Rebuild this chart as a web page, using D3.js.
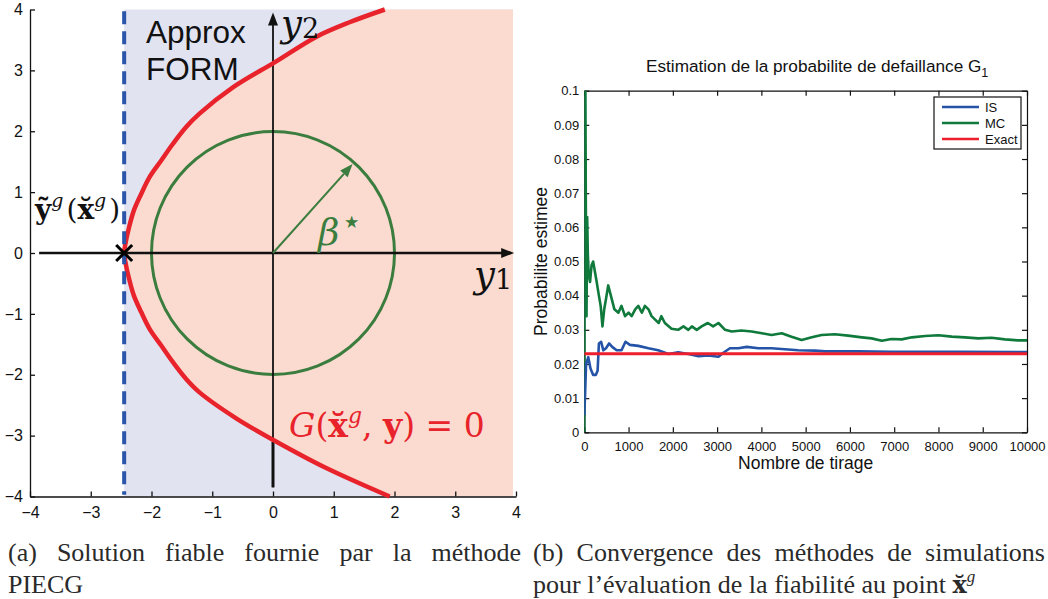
<!DOCTYPE html>
<html><head><meta charset="utf-8">
<script src="https://cdn.jsdelivr.net/npm/d3@7"></script>
<style>
body{margin:0;background:#fff;}
svg{display:block;}
</style></head>
<body>
<svg id="chart" width="1048" height="599"></svg>
<script>
// ---------- Panel (a) data ----------
const axisTicksA = [-4,-3,-2,-1,0,1,2,3,4];
const formX = -2.45;                 // Approx FORM abscissa
const limitY = [4.0, 3.79, 3.55, 3.14, 2.72, 2.29, 2.07, 1.79, 1.52, 1.25, 0.97, 0.70, 0.42, 0.15, 0, -0.15, -0.42, -0.70, -0.97, -1.25, -1.52, -1.79, -2.07, -2.29, -2.72, -3.08, -3.52, -4.0];
const limitX = [1.84, 1.26, 0.71, 0.04, -0.66, -1.21, -1.43, -1.65, -1.84, -2.03, -2.17, -2.29, -2.37, -2.43, -2.45, -2.43, -2.37, -2.29, -2.17, -2.03, -1.84, -1.65, -1.43, -1.21, -0.60, 0.02, 0.85, 1.92];
const betaStar = 2;
const betaArrowEnd = [1.31, 1.46];

// ---------- Panel (b) data ----------
const xTicksB = [0,1000,2000,3000,4000,5000,6000,7000,8000,9000,10000];
const yTicksB = [0,0.01,0.02,0.03,0.04,0.05,0.06,0.07,0.08,0.09,0.1];
const nMC = [0, 10, 25, 35, 50, 65, 80, 100, 130, 165, 200, 240, 280, 330, 370, 410, 450, 490, 540, 600, 680, 770, 840, 920, 1000, 1070, 1150, 1220, 1300, 1370, 1450, 1520, 1600, 1680, 1740, 1820, 1970, 2120, 2240, 2350, 2430, 2540, 2650, 2790, 2910, 3030, 3180, 3330, 3550, 3780, 4010, 4230, 4460, 4680, 4910, 5140, 5360, 5660, 5960, 6270, 6490, 6720, 6940, 7170, 7400, 7700, 8000, 8300, 8600, 8900, 9200, 9500, 9800, 10000];
const pMC = [0, 0.1, 0.1, 0.066, 0.034, 0.063, 0.052, 0.046, 0.044, 0.049, 0.050, 0.047, 0.044, 0.040, 0.037, 0.031, 0.036, 0.039, 0.043, 0.040, 0.036, 0.035, 0.037, 0.034, 0.035, 0.034, 0.036, 0.037, 0.035, 0.037, 0.036, 0.034, 0.033, 0.032, 0.034, 0.032, 0.0303, 0.030, 0.031, 0.030, 0.031, 0.030, 0.031, 0.032, 0.031, 0.032, 0.030, 0.0295, 0.0298, 0.0295, 0.029, 0.0285, 0.029, 0.028, 0.027, 0.0278, 0.0285, 0.0287, 0.0283, 0.0278, 0.0275, 0.0268, 0.0273, 0.0272, 0.0278, 0.0282, 0.0284, 0.028, 0.0278, 0.0275, 0.0277, 0.0272, 0.0269, 0.0269];
const nIS = [0, 20, 40, 90, 140, 200, 260, 300, 330, 380, 430, 490, 560, 630, 730, 840, 930, 1030, 1220, 1450, 1670, 1900, 2120, 2350, 2580, 2800, 3030, 3140, 3290, 3480, 3670, 3930, 4230, 4530, 4830, 5210, 5440, 6190, 6940, 7700, 8450, 10000];
const pIS = [0.005, 0.012, 0.020, 0.022, 0.0187, 0.0168, 0.0168, 0.018, 0.026, 0.0265, 0.024, 0.0246, 0.026, 0.025, 0.024, 0.024, 0.0265, 0.0256, 0.0253, 0.0246, 0.024, 0.0229, 0.0234, 0.0229, 0.0223, 0.0225, 0.0221, 0.0233, 0.0246, 0.0246, 0.025, 0.0246, 0.0246, 0.0243, 0.024, 0.0239, 0.0237, 0.0237, 0.0236, 0.0236, 0.0236, 0.0235];
const pExact = 0.023;
const seriesNames = ["IS","MC","Exact"];

// ---------- captions ----------
const captionA1 = ["(a)","Solution","fiable","fournie","par","la","méthode"];
const captionA2 = "PIECG";
const captionB1 = ["(b)","Convergence","des","méthodes","de","simulations"];
const captionB2 = "pour l’évaluation de la fiabilité au point ";

const svg = d3.select("#chart");
const SANS = "'Liberation Sans', Arial, Helvetica, sans-serif";
const SERIF = "'Liberation Serif', 'Times New Roman', serif";
const MATH = "'DejaVu Serif', 'Liberation Serif', serif";

// ================= Panel (a) =================
const xA = d3.scaleLinear().domain([-4,4]).range([30,516]);
const yA = d3.scaleLinear().domain([-4,4]).range([496.5,9.5]);
const gA = svg.append("g");

// lavender region
gA.append("rect").attr("x", xA(formX)).attr("y", yA(4))
  .attr("width", xA(3.95)-xA(formX)).attr("height", yA(-4)-yA(4))
  .attr("fill", "#e1e3f1");
// salmon failure region (right of limit state)
const limitPts = limitY.map((y,i)=>[limitX[i], y]);
const regionLine = d3.line().x(d=>xA(d[0])).y(d=>yA(d[1])).curve(d3.curveCatmullRom.alpha(0.5));
gA.append("path")
  .attr("d", regionLine(limitPts) + `L${xA(3.95)},${yA(-4)}L${xA(3.95)},${yA(4)}Z`)
  .attr("fill", "#fbdbcf");

// axes (left & bottom)
const axL = d3.axisLeft(yA).tickValues(axisTicksA).tickSizeInner(-5).tickSizeOuter(0).tickPadding(7);
const axB = d3.axisBottom(xA).tickValues(axisTicksA).tickSizeInner(-5).tickSizeOuter(0).tickPadding(10);
const gL = gA.append("g").attr("transform", `translate(${xA(-4)},0)`).call(axL);
const gBt = gA.append("g").attr("transform", `translate(0,${yA(-4)})`).call(axB);
[gL,gBt].forEach(g=>{
  g.selectAll("path,line").attr("stroke","#111").attr("stroke-width",1.3);
  g.selectAll("text").attr("font-family",SANS).attr("font-size",16).attr("fill","#111");
});

// green beta circle
gA.append("circle").attr("cx", xA(0)).attr("cy", yA(0))
  .attr("r", xA(betaStar)-xA(0)).attr("fill","none")
  .attr("stroke","#3b7d3e").attr("stroke-width",3);

// black coordinate axes
gA.append("line").attr("x1", xA(-3.85)).attr("x2", xA(3.85)).attr("y1", yA(0)).attr("y2", yA(0))
  .attr("stroke","#111").attr("stroke-width",2.5);
gA.append("path").attr("d", `M${xA(3.97)},${yA(0)}L${xA(3.97)-13},${yA(0)-5}L${xA(3.97)-13},${yA(0)+5}Z`).attr("fill","#111");
gA.append("line").attr("x1", xA(0)).attr("x2", xA(0)).attr("y1", yA(-3.85)).attr("y2", yA(3.85))
  .attr("stroke","#111").attr("stroke-width",1.8);
gA.append("line").attr("x1", xA(0)).attr("x2", xA(0)).attr("y1", yA(-3.85)).attr("y2", yA(-3.1))
  .attr("stroke","#111").attr("stroke-width",3);
gA.append("path").attr("d", `M${xA(0)},${yA(3.95)}L${xA(0)-5},${yA(3.95)+13}L${xA(0)+5},${yA(3.95)+13}Z`).attr("fill","#111");

// red limit state curve
gA.append("path").attr("d", regionLine(limitPts)).attr("fill","none")
  .attr("stroke","#e8232b").attr("stroke-width",4.5);

// blue dashed FORM line
gA.append("line").attr("x1", xA(formX)).attr("x2", xA(formX)).attr("y1", yA(3.97)).attr("y2", yA(-3.97))
  .attr("stroke","#2b55a8").attr("stroke-width",4).attr("stroke-dasharray","13,7");

// beta arrow
const ax0 = xA(0), ay0 = yA(0), ax1 = xA(betaArrowEnd[0]), ay1 = yA(betaArrowEnd[1]);
const ang = Math.atan2(ay1-ay0, ax1-ax0);
const hl = 13, hw = 5;
const bx = ax1 - hl*Math.cos(ang), by = ay1 - hl*Math.sin(ang);
gA.append("line").attr("x1",ax0).attr("y1",ay0).attr("x2",bx).attr("y2",by)
  .attr("stroke","#3b7d3e").attr("stroke-width",2);
gA.append("path").attr("d", `M${ax1},${ay1}L${bx - hw*Math.sin(ang)},${by + hw*Math.cos(ang)}L${bx + hw*Math.sin(ang)},${by - hw*Math.cos(ang)}Z`)
  .attr("fill","#3b7d3e");

// X marker
const mx = xA(formX), my = yA(0), ms = 8;
gA.append("path").attr("d", `M${mx-ms},${my-ms}L${mx+ms},${my+ms}M${mx-ms},${my+ms}L${mx+ms},${my-ms}`)
  .attr("stroke","#000").attr("stroke-width",3);

// texts panel (a)
gA.append("text").attr("x",146).attr("y",43).attr("font-family",SANS).attr("font-size",31.5).attr("fill","#111").text("Approx");
gA.append("text").attr("x",146).attr("y",80).attr("font-family",SANS).attr("font-size",31.5).attr("fill","#111").text("FORM");

const ty2 = gA.append("text").attr("x",281).attr("y",36).attr("font-family",MATH).attr("font-size",37).attr("fill","#111");
ty2.append("tspan").attr("font-style","italic").text("y");
ty2.append("tspan").attr("font-size",27).attr("dy",2).text("2");

const ty1 = gA.append("text").attr("x",474).attr("y",287).attr("font-family",MATH).attr("font-size",37).attr("fill","#111");
ty1.append("tspan").attr("font-style","italic").text("y");
ty1.append("tspan").attr("font-size",27).attr("dy",2).text("1");

const tyg = gA.append("text").attr("x",35).attr("y",219).attr("font-family",MATH).attr("font-size",28).attr("fill","#111");
tyg.append("tspan").attr("font-weight","bold").text("\u1EF9");
tyg.append("tspan").attr("font-style","italic").attr("font-size",19).attr("dy",-12).text("g");
tyg.append("tspan").attr("dy",12).attr("dx",3).text("(");
tyg.append("tspan").attr("font-weight","bold").text("x\u0306");
tyg.append("tspan").attr("font-style","italic").attr("font-size",19).attr("dy",-12).text("g");
tyg.append("tspan").attr("dy",12).attr("dx",3).text(")");

const tb = gA.append("text").attr("x",318).attr("y",245).attr("font-family",MATH).attr("font-size",37).attr("fill","#3b7d3e");
tb.append("tspan").attr("font-style","italic").text("β");
tb.append("tspan").attr("font-size",34).attr("dy",-12).attr("dx",2).text("⋆");

const tg = gA.append("text").attr("x",289).attr("y",437).attr("font-family",MATH).attr("font-size",33).attr("fill","#e8232b");
tg.append("tspan").attr("font-style","italic").text("G");
tg.append("tspan").text("(");
tg.append("tspan").attr("font-weight","bold").text("x\u0306");
tg.append("tspan").attr("font-style","italic").attr("font-size",22).attr("dy",-14).text("g");
tg.append("tspan").attr("dy",14).text(", ");
tg.append("tspan").attr("font-weight","bold").text("y");
tg.append("tspan").text(") = 0");

// ================= Panel (b) =================
const L=584.3, R=1027, T=90.7, B=432.3;
const xB = d3.scaleLinear().domain([0,10000]).range([L,R]);
const yB = d3.scaleLinear().domain([0,0.1]).range([B,T]);
const gB = svg.append("g");

svg.append("clipPath").attr("id","clipB").append("rect").attr("x",L).attr("y",T).attr("width",R-L).attr("height",B-T);

const fmtY = d => d===0 ? "0" : String(+d.toFixed(2));
const bAx = d3.axisBottom(xB).tickValues(xTicksB).tickSizeInner(-5).tickSizeOuter(0).tickPadding(9).tickFormat(d3.format("d"));
const lAx = d3.axisLeft(yB).tickValues(yTicksB).tickSizeInner(-5).tickSizeOuter(0).tickPadding(5).tickFormat(fmtY);
const tAx = d3.axisTop(xB).tickValues(xTicksB).tickSizeInner(-5).tickSizeOuter(0).tickFormat("");
const rAx = d3.axisRight(yB).tickValues(yTicksB).tickSizeInner(-5).tickSizeOuter(0).tickFormat("");
const gs = [
  gB.append("g").attr("transform",`translate(0,${B})`).call(bAx),
  gB.append("g").attr("transform",`translate(${L},0)`).call(lAx),
  gB.append("g").attr("transform",`translate(0,${T})`).call(tAx),
  gB.append("g").attr("transform",`translate(${R},0)`).call(rAx)
];
gs.forEach(g=>{
  g.selectAll("path,line").attr("stroke","#111").attr("stroke-width",1.2);
  g.selectAll("text").attr("font-family",SANS).attr("font-size",13).attr("fill","#111");
});

const lineB = d3.line().x(d=>xB(d[0])).y(d=>yB(d[1]));
const gLines = gB.append("g").attr("clip-path","url(#clipB)");
gLines.append("path").attr("d", lineB(nMC.map((n,i)=>[n,pMC[i]]))).attr("fill","none")
  .attr("stroke","#0f7a3c").attr("stroke-width",2.6).attr("stroke-linejoin","round");
gLines.append("path").attr("d", lineB(nIS.map((n,i)=>[n,pIS[i]]))).attr("fill","none")
  .attr("stroke","#2453a8").attr("stroke-width",2.6).attr("stroke-linejoin","round");
gLines.append("path").attr("d", lineB([[0,pExact],[10000,pExact]])).attr("fill","none")
  .attr("stroke","#ee1f2d").attr("stroke-width",2.8);

// title & labels
const title = gB.append("text").attr("x",646).attr("y",72)
  .attr("font-family",SANS).attr("font-size",17.2).attr("fill","#111");
title.append("tspan").text("Estimation de la probabilite de defaillance G");
title.append("tspan").attr("font-size",12.5).attr("dy",5).text("1");

gB.append("text").attr("x",(L+R)/2).attr("y",469).attr("text-anchor","middle")
  .attr("font-family",SANS).attr("font-size",17.5).attr("fill","#111").text("Nombre de tirage");
gB.append("text").attr("transform",`translate(547,${(T+B)/2}) rotate(-90)`).attr("text-anchor","middle")
  .attr("font-family",SANS).attr("font-size",17.5).attr("fill","#111").text("Probabilite estimee");

// legend
const legColors = ["#2453a8","#0f7a3c","#ee1f2d"];
const lg = gB.append("g");
lg.append("rect").attr("x",934).attr("y",97).attr("width",87).attr("height",52)
  .attr("fill","#fff").attr("stroke","#111").attr("stroke-width",1.2);
seriesNames.forEach((s,i)=>{
  const yy = 107 + i*16;
  lg.append("line").attr("x1",942).attr("x2",979).attr("y1",yy).attr("y2",yy)
    .attr("stroke",legColors[i]).attr("stroke-width",2.6);
  lg.append("text").attr("x",985).attr("y",yy+4.5).attr("font-family",SANS).attr("font-size",13)
    .attr("fill","#111").text(s);
});

// ================= Captions =================
function justify(words, left, right, y){
  const g = svg.append("g");
  const nodes = words.map(w => g.append("text").attr("y",y).attr("font-family",SERIF)
      .attr("font-size",26).attr("fill","#2a2a2a").text(w));
  const widths = nodes.map(n => n.node().getComputedTextLength());
  const total = d3.sum(widths);
  const gap = (right-left-total)/(words.length-1);
  let x = left;
  nodes.forEach((n,i)=>{ n.attr("x",x); x += widths[i] + gap; });
}
justify(captionA1, 8, 521, 561);
svg.append("text").attr("x",8).attr("y",593).attr("font-family",SERIF).attr("font-size",26)
  .attr("fill","#2a2a2a").text(captionA2);
justify(captionB1, 533, 1045, 561);
const cb2 = svg.append("text").attr("x",533).attr("y",593).attr("font-family",SERIF).attr("font-size",26).attr("fill","#2a2a2a");
cb2.append("tspan").text(captionB2);
cb2.append("tspan").attr("font-family",MATH).attr("font-weight","bold").attr("font-size",24).text("x\u0306");
cb2.append("tspan").attr("font-style","italic").attr("font-size",17).attr("dy",-11).text("g");
</script>
</body></html>
